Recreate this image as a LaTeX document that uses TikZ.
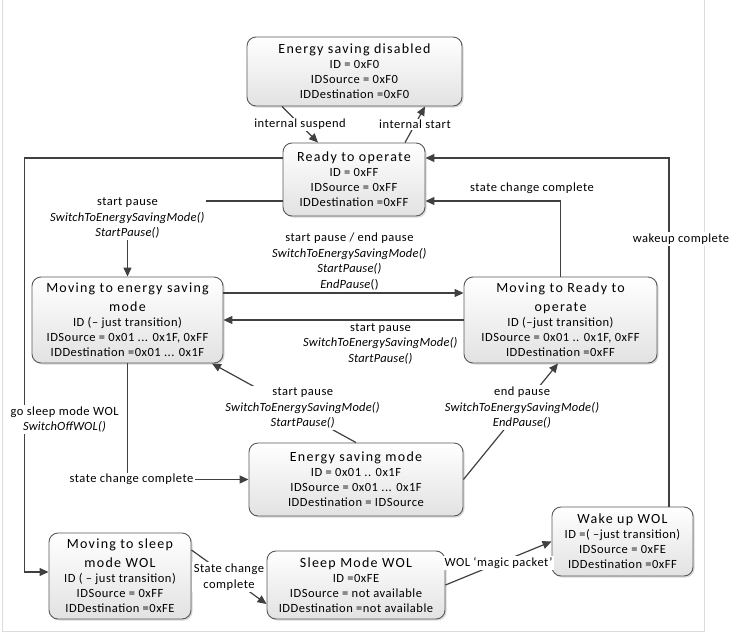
\documentclass[tikz,border=0pt]{standalone}
\usepackage{fontspec}
\setmainfont{Carlito}[LetterSpace=4, ItalicFeatures={LetterSpace=1.5}]
\newfontfamily\ttlfont[LetterSpace=9]{Carlito}
\usetikzlibrary{arrows.meta, shadows}
\definecolor{edge}{HTML}{595959}
\definecolor{wire}{HTML}{404040}
\definecolor{boxbot}{HTML}{E2E2E2}
\definecolor{framec}{HTML}{DCDCDC}
\newcommand{\ttl}[1]{{\ttlfont\fontsize{14}{16}\selectfont #1}}

\begin{document}
\begin{tikzpicture}[x=1pt, y=-1pt,
    state/.style={draw=edge, line width=0.9pt, rounded corners=9pt, top color=white, bottom color=boxbot,
        drop shadow={opacity=0.3, shadow xshift=1.5pt, shadow yshift=-1.5pt},
        align=center, font=\fontsize{12.5}{15}\selectfont, inner sep=2pt},
    lbl/.style={font=\fontsize{12.5}{15.5}\selectfont, align=center, fill=white, inner sep=1.5pt},
    arr/.style={-{Triangle[length=9pt, width=8pt]}, draw=wire, line width=1.2pt},
]
\useasboundingbox (0,0) rectangle (748,638);

% Frame
\draw[framec, line width=1pt] (2,0) -- (2,631) -- (704,631) -- (704,0);

% States
\node[state, minimum width=215pt, minimum height=69pt] (esd) at (354.5,71.5)
    {\ttl{Energy saving disabled}\\ ID = 0xF0\\ IDSource = 0xF0\\ IDDestination =0xF0};
\node[state, minimum width=142pt, minimum height=73pt] (rto) at (354,179.5)
    {\ttl{Ready to operate}\\ ID = 0xFF\\ IDSource = 0xFF\\ IDDestination =0xFF};
\node[state, minimum width=191pt, minimum height=86pt] (mes) at (127.5,320)
    {\ttl{Moving to energy saving}\\[4pt] \ttl{mode}\\ ID (– just transition)\\ IDSource = 0x01 ... 0x1F, 0xFF\\ IDDestination =0x01 ... 0x1F};
\node[state, minimum width=193pt, minimum height=86pt] (mrto) at (560.5,320)
    {\ttl{Moving to Ready to}\\[4pt] \ttl{operate}\\ ID (–just transition)\\ IDSource = 0x01 .. 0x1F, 0xFF\\ IDDestination =0xFF};
\node[state, minimum width=214pt, minimum height=73pt] (esm) at (356,479.5)
    {\ttl{Energy saving mode}\\ ID = 0x01 .. 0x1F\\ IDSource = 0x01 ... 0x1F\\ IDDestination = IDSource};
\node[state, minimum width=142pt, minimum height=86pt] (msw) at (120,576)
    {\ttl{Moving to sleep}\\[4pt] \ttl{mode WOL}\\ ID ( – just transition)\\ IDSource = 0xFF\\ IDDestination =0xFE};
\node[state, minimum width=178pt, minimum height=68pt] (smw) at (356,585)
    {\ttl{Sleep Mode WOL}\\ ID =0xFE\\ IDSource = not available\\ IDDestination =not available};
\node[state, minimum width=141pt, minimum height=69pt] (wuw) at (622.5,541.5)
    {\ttl{Wake up WOL}\\ ID =( –just transition)\\ IDSource = 0xFE\\ IDDestination =0xFF};

% Transitions around Ready to operate
\draw[arr] ([xshift=-72.5pt]esd.south) -- node[lbl] {internal suspend} ([xshift=-36pt]rto.north);
\draw[arr] ([xshift=51pt]rto.north) -- node[lbl] {internal start} ([xshift=70.5pt]esd.south);
\draw[arr] ([yshift=-21.5pt]rto.west) -| node[lbl, pos=0.5, yshift=-17pt]
    {start pause\\ \textit{SwitchToEnergySavingMode()}\\ \textit{StartPause()}} (mes.north);
\draw[arr] (mrto.north) |- node[lbl, pos=0.5, xshift=-28.5pt, yshift=13pt]
    {state change complete} ([yshift=-21.5pt]rto.east);
\draw[arr] ([xshift=46.5pt]wuw.north) |- node[lbl, pos=0.384, xshift=12pt]
    {wakeup complete} ([yshift=21.5pt]rto.east);
\draw[arr] ([yshift=21.5pt]rto.west) -| node[lbl, pos=0.816, xshift=40pt]
    {go sleep mode WOL\\ \textit{SwitchOffWOL()}} ([xshift=-24pt, yshift=4pt]msw.west) -- ([yshift=4pt]msw.west);

% Energy saving transitions
\draw[arr] ([yshift=27pt]mes.east) -- node[lbl, above=1pt, xshift=6pt]
    {start pause / end pause\\ \textit{SwitchToEnergySavingMode()}\\ \textit{StartPause()}\\ \textit{EndPause}()} ([yshift=27pt]mrto.west);
\draw[arr] (mrto.west) -- node[lbl, below=1pt, xshift=37pt]
    {start pause\\ \textit{SwitchToEnergySavingMode()}\\ \textit{StartPause()}} (mes.east);
\draw[arr] (esm.north) -- node[lbl, pos=0.37, yshift=5pt]
    {start pause\\ \textit{SwitchToEnergySavingMode()}\\ \textit{StartPause()}} ([xshift=84.5pt]mes.south);
\draw[arr] (mes.south) |- node[lbl, pos=0.5, xshift=4pt] {state change complete} (esm.west);
\draw[arr] (esm.east) -- node[lbl, pos=0.62]
    {end pause\\ \textit{SwitchToEnergySavingMode()}\\ \textit{EndPause()}} ([xshift=-2.5pt]mrto.south);

% WOL transitions
\draw[arr] ([yshift=26pt]msw.east) -- node[lbl] {State change\\ complete} ([yshift=-19pt]smw.west);
\draw[arr] (smw.east) -- node[lbl] {WOL ‘magic packet’} (wuw.west);

\end{tikzpicture}
\end{document}
